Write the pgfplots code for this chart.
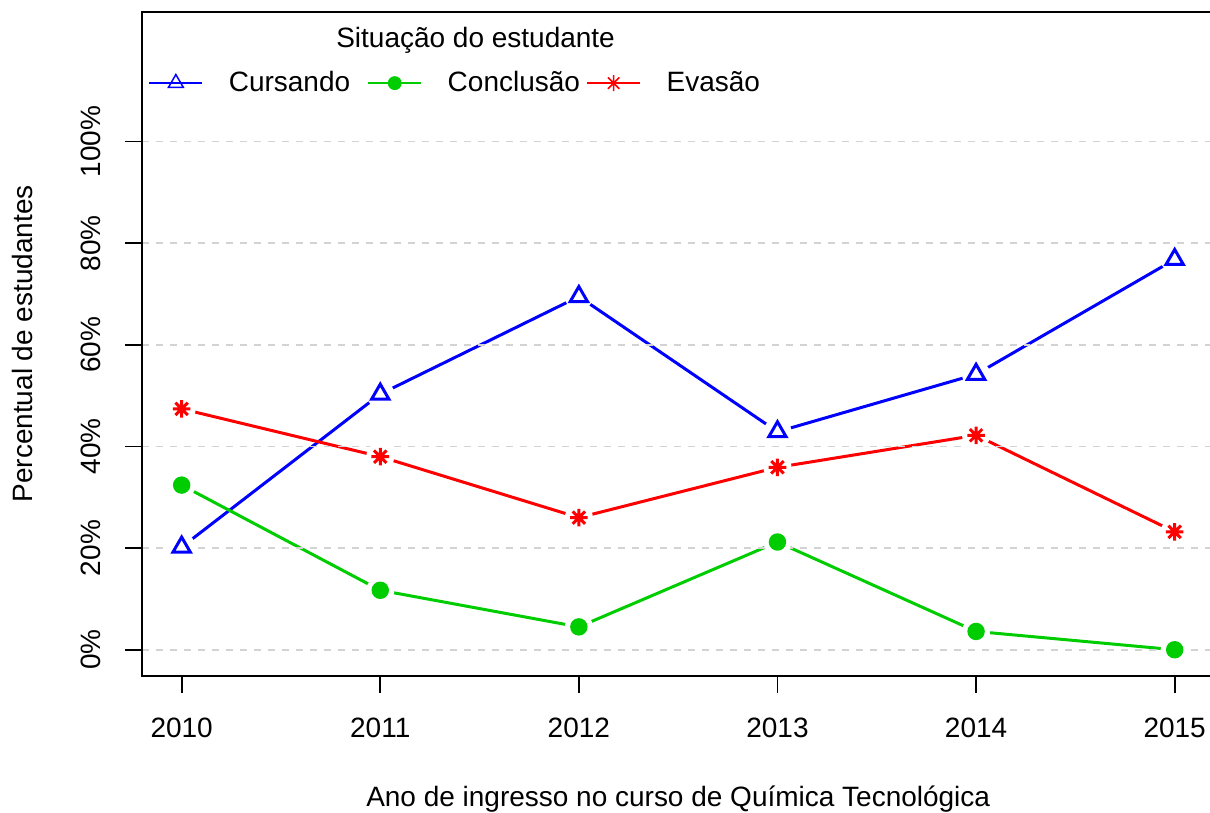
\documentclass[border=0pt]{standalone}
\usepackage{pgfplots}
\pgfplotsset{compat=1.18}
\usepackage{pgfplotstable}
\usepackage{fontspec}
\setmainfont{Liberation Sans}
\definecolor{rblue}{RGB}{0,0,255}
\definecolor{rgreen}{RGB}{0,205,0}
\definecolor{rred}{RGB}{255,0,0}
\definecolor{rgrid}{RGB}{211,211,211}
\pgfdeclareplotmark{rstar}{%
  \pgfpathmoveto{\pgfqpoint{-\pgfplotmarksize}{0pt}}\pgfpathlineto{\pgfqpoint{\pgfplotmarksize}{0pt}}%
  \pgfpathmoveto{\pgfqpoint{0pt}{-\pgfplotmarksize}}\pgfpathlineto{\pgfqpoint{0pt}{\pgfplotmarksize}}%
  \pgfpathmoveto{\pgfqpoint{-.7071\pgfplotmarksize}{-.7071\pgfplotmarksize}}\pgfpathlineto{\pgfqpoint{.7071\pgfplotmarksize}{.7071\pgfplotmarksize}}%
  \pgfpathmoveto{\pgfqpoint{-.7071\pgfplotmarksize}{.7071\pgfplotmarksize}}\pgfpathlineto{\pgfqpoint{.7071\pgfplotmarksize}{-.7071\pgfplotmarksize}}%
  \pgfusepathqstroke}
% marks with a white disc behind them (R type "b": gaps around the points)
\pgfdeclareplotmark{htri}{%
  \pgfsetfillcolor{white}\pgfpathcircle{\pgfpointorigin}{7pt}\pgfusepathqfill
  \pgfpathmoveto{\pgfqpointpolar{90}{\pgfplotmarksize}}%
  \pgfpathlineto{\pgfqpointpolar{-30}{\pgfplotmarksize}}%
  \pgfpathlineto{\pgfqpointpolar{210}{\pgfplotmarksize}}%
  \pgfpathclose\pgfusepathqstroke}
\pgfdeclareplotmark{hdot}{%
  \pgfsetfillcolor{white}\pgfpathcircle{\pgfpointorigin}{7pt}\pgfusepathqfill
  \pgfsetfillcolor{rgreen}\pgfpathcircle{\pgfpointorigin}{\pgfplotmarksize}\pgfusepathqfillstroke}
\pgfdeclareplotmark{hstar}{%
  \pgfsetfillcolor{white}\pgfpathcircle{\pgfpointorigin}{7pt}\pgfusepathqfill
  \pgfpathmoveto{\pgfqpoint{-\pgfplotmarksize}{0pt}}\pgfpathlineto{\pgfqpoint{\pgfplotmarksize}{0pt}}%
  \pgfpathmoveto{\pgfqpoint{0pt}{-\pgfplotmarksize}}\pgfpathlineto{\pgfqpoint{0pt}{\pgfplotmarksize}}%
  \pgfpathmoveto{\pgfqpoint{-.7071\pgfplotmarksize}{-.7071\pgfplotmarksize}}\pgfpathlineto{\pgfqpoint{.7071\pgfplotmarksize}{.7071\pgfplotmarksize}}%
  \pgfpathmoveto{\pgfqpoint{-.7071\pgfplotmarksize}{.7071\pgfplotmarksize}}\pgfpathlineto{\pgfqpoint{.7071\pgfplotmarksize}{-.7071\pgfplotmarksize}}%
  \pgfusepathqstroke}
\pgfplotstableread{
ano cur con eva
2010 20.2 32.4 47.4
2011 50.3 11.7 38.0
2012 69.5 4.5 26.0
2013 42.9 21.2 35.9
2014 54.2 3.6 42.2
2015 76.8 0.0 23.2
}\dados
\begin{document}
\fontsize{14}{16.8}\selectfont
\begin{tikzpicture}
\begin{axis}[
  name=ax,
  scale only axis,
  width=536.5pt, height=332pt,
  xmin=2009.8, xmax=2015.2,
  ymin=-5.1, ymax=125.5,
  xtick={2010,2011,2012,2013,2014,2015},
  xticklabels={2010,2011,2012,2013,2014,2015},
  ytick={0,20,40,60,80,100},
  yticklabels={0\%,20\%,40\%,60\%,80\%,100\%},
  tick align=outside,
  major tick length=8.5pt,
  xtick pos=bottom, ytick pos=left,
  tick style={black, line width=0.9pt},
  axis line style={black, line width=0.9pt},
  ymajorgrids,
  grid style={draw=rgrid, line width=0.9pt, dash pattern=on 3.5pt off 3.5pt},
  axis on top,
  tick label style={font=\fontsize{14}{16.8}\selectfont, inner sep=0pt},
  yticklabel style={xshift=-12pt, rotate=90, anchor=south},
  xticklabel style={yshift=-12.5pt, anchor=north},
  xlabel={Ano de ingresso no curso de Química Tecnológica},
  ylabel={Percentual de estudantes},
  every axis x label/.style={at={(rel axis cs:0.5,0)}, anchor=base, yshift=-65.5pt, inner sep=0pt, font=\fontsize{14}{16.8}\selectfont},
  every axis y label/.style={at={(rel axis cs:-0.111,0.5)}, rotate=90, anchor=center, inner sep=0pt, font=\fontsize{14}{16.8}\selectfont},
  legend columns=3,
  legend style={draw=none, fill=none, inner sep=0pt, outer sep=0pt,
    at={(axis cs:2009.83,111.5)}, anchor=west,
    column sep=0pt, row sep=0pt,
    nodes={inner sep=0pt, text width=69pt, align=left, font=\fontsize{14}{16.8}\selectfont}},
  legend cell align=left,
]
\addplot[forget plot, rblue, line width=1.5pt, no marks] table[x=ano, y=cur]{\dados};
\addplot[forget plot, rgreen, line width=1.5pt, no marks] table[x=ano, y=con]{\dados};
\addplot[forget plot, rred, line width=1.5pt, no marks] table[x=ano, y=eva]{\dados};
\addplot[rblue, only marks, mark=htri, mark size=5pt, line width=1.5pt,
  legend image code/.code={\draw[line width=0.75pt] (0pt,0pt) -- (26.5pt,0pt);
    \draw[line width=0.75pt, mark=triangle, mark size=4.3pt] plot coordinates {(13.25pt,0pt)};
    \path (0pt,0pt) (39pt,0pt);}] table[x=ano, y=cur]{\dados};
\addlegendentry{Cursando}
\addplot[rgreen, only marks, mark=hdot, mark size=3.6pt, line width=1.5pt,
  legend image code/.code={\draw[line width=0.75pt] (0pt,0pt) -- (26.5pt,0pt);
    \draw[line width=0.75pt, mark=*, mark size=3.1pt] plot coordinates {(13.25pt,0pt)};
    \path (0pt,0pt) (39pt,0pt);}] table[x=ano, y=con]{\dados};
\addlegendentry{Conclusão}
\addplot[rred, only marks, mark=hstar, mark size=4.4pt, line width=1.5pt,
  legend image code/.code={\draw[line width=0.75pt] (0pt,0pt) -- (26.5pt,0pt);
    \draw[line width=0.75pt, mark=rstar, mark size=4pt] plot coordinates {(13.25pt,0pt)};
    \path (0pt,0pt) (39pt,0pt);}] table[x=ano, y=eva]{\dados};
\addlegendentry{Evasão}
\node[anchor=center, inner sep=0pt, font=\fontsize{14}{16.8}\selectfont] at (axis cs:2011.48,120.0) {Situação do estudante};
\end{axis}
\pgfresetboundingbox
\path ([xshift=-71pt,yshift=-68.5pt]ax.south west) rectangle ([xshift=-2.2pt,yshift=6pt]ax.north east);
\end{tikzpicture}
\end{document}
